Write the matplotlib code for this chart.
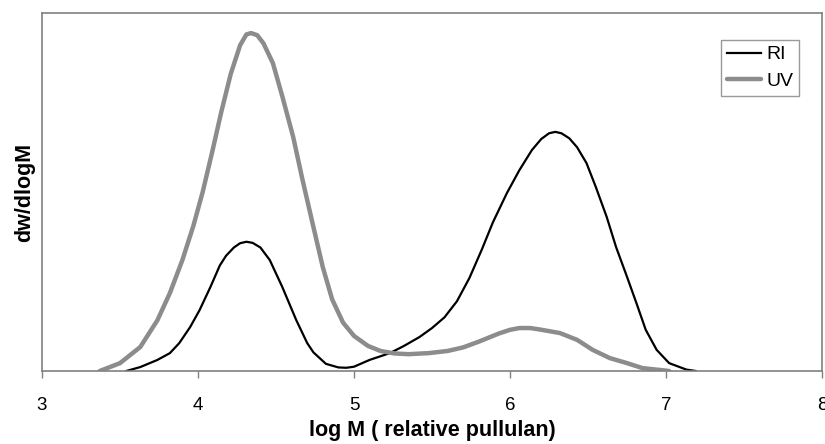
import matplotlib.pyplot as plt

plt.rcParams['font.family'] = ['Liberation Sans', 'DejaVu Sans']

# molecular weight distributions (log M relative to pullulan standards)
ri_logm = [3.54, 3.63, 3.74, 3.82, 3.88, 3.95, 4.01, 4.08, 4.14, 4.18, 4.23, 4.27,
           4.31, 4.35, 4.40, 4.46, 4.54, 4.63, 4.70, 4.74, 4.82, 4.90, 4.95, 5.00,
           5.10, 5.23, 5.32, 5.42, 5.50, 5.58, 5.66, 5.74, 5.82, 5.89, 5.98, 6.06,
           6.14, 6.20, 6.25, 6.29, 6.33, 6.38, 6.43, 6.49, 6.55, 6.62, 6.68, 6.75,
           6.81, 6.87, 6.94, 7.02, 7.13, 7.19]
ri_dw = [0.0, 0.011, 0.031, 0.050, 0.078, 0.123, 0.170, 0.235, 0.295, 0.322, 0.345, 0.357,
         0.361, 0.358, 0.345, 0.310, 0.235, 0.142, 0.078, 0.052, 0.020, 0.010, 0.009, 0.012,
         0.031, 0.050, 0.070, 0.095, 0.120, 0.150, 0.195, 0.260, 0.340, 0.415, 0.497, 0.561,
         0.617, 0.648, 0.664, 0.668, 0.664, 0.650, 0.625, 0.581, 0.514, 0.430, 0.346, 0.263,
         0.190, 0.115, 0.059, 0.022, 0.004, 0.0]

uv_logm = [3.37, 3.50, 3.63, 3.74, 3.82, 3.90, 3.97, 4.03, 4.09, 4.15, 4.21, 4.27,
           4.31, 4.34, 4.38, 4.42, 4.48, 4.54, 4.61, 4.67, 4.74, 4.80, 4.86, 4.93,
           5.00, 5.09, 5.17, 5.26, 5.35, 5.48, 5.60, 5.70, 5.80, 5.93, 6.00, 6.06,
           6.13, 6.19, 6.32, 6.43, 6.53, 6.64, 6.75, 6.85, 6.96, 7.02]
uv_dw = [0.0, 0.022, 0.067, 0.142, 0.218, 0.310, 0.405, 0.500, 0.610, 0.725, 0.830, 0.910,
         0.940, 0.944, 0.938, 0.915, 0.860, 0.768, 0.654, 0.534, 0.402, 0.290, 0.200, 0.135,
         0.098, 0.070, 0.056, 0.049, 0.047, 0.050, 0.056, 0.066, 0.082, 0.105, 0.115, 0.120,
         0.120, 0.116, 0.106, 0.087, 0.059, 0.036, 0.022, 0.008, 0.003, 0.0]

fig = plt.figure(figsize=(8.25, 4.44), dpi=100)
ax = fig.add_axes([0.0509, 0.1644, 0.9455, 0.8063])

ax.plot(ri_logm, ri_dw, color='black', lw=1.6, label='RI', solid_joinstyle='round')
ax.plot(uv_logm, uv_dw, color='#8c8c8c', lw=3.2, label='UV',
        solid_capstyle='round', solid_joinstyle='round')

ax.set_xlim(3, 8)
ax.set_ylim(0, 1.0)
ax.set_xticks([3, 4, 5, 6, 7, 8])
ax.set_yticks([])
ax.tick_params(axis='x', direction='out', length=5, width=1, color='#808080',
               labelsize=13.5, pad=14)
for sp in ax.spines.values():
    sp.set_color('#808080')
    sp.set_linewidth(1.2)

ax.set_xlabel('log M ( relative pullulan)', fontsize=15.5, fontweight='bold', labelpad=4)
ax.set_ylabel('dw/dlogM', fontsize=15.5, fontweight='bold', labelpad=5)

leg = ax.legend(loc='upper right', bbox_to_anchor=(0.9705, 0.9246), fontsize=14,
                frameon=True, fancybox=False, handlelength=1.75, handletextpad=0.25,
                borderpad=0.3, labelspacing=0.45, borderaxespad=0)
leg.get_frame().set_edgecolor('#808080')
leg.get_frame().set_linewidth(1.0)

fig.savefig('out.png', dpi=100)
